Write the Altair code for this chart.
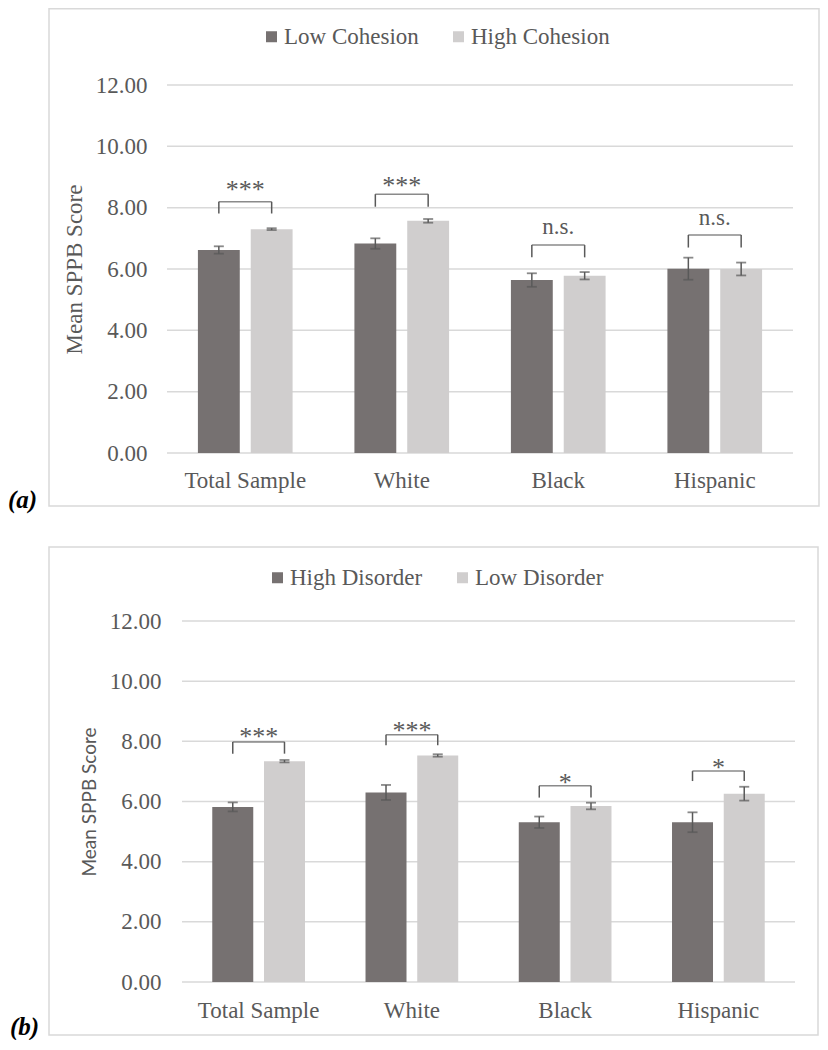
import altair as alt
import pandas as pd

GROUPS = ["Total Sample", "White", "Black", "Hispanic"]
Y_TICKS = [0, 2, 4, 6, 8, 10, 12]
PANEL_LABELS = ["(a)", "(b)"]
Y_TITLE = "Mean SPPB Score"

A_SERIES = ["Low Cohesion", "High Cohesion"]
A_DARK = [6.62, 6.83, 5.64, 6.01]
A_DARK_ERR = [0.12, 0.17, 0.22, 0.36]
A_LIGHT = [7.30, 7.57, 5.78, 6.00]
A_LIGHT_ERR = [0.03, 0.06, 0.12, 0.21]
A_SIG = ["***", "***", "n.s.", "n.s."]
A_BRACKET_TOP = [8.19, 8.44, 6.78, 7.11]
A_BRACKET_LEG = [7.81, 8.03, 6.38, 6.70]
A_SIG_Y = [8.73, 8.86, 7.32, 7.61]

B_SERIES = ["High Disorder", "Low Disorder"]
B_DARK = [5.82, 6.30, 5.31, 5.31]
B_DARK_ERR = [0.15, 0.25, 0.19, 0.33]
B_LIGHT = [7.34, 7.53, 5.85, 6.26]
B_LIGHT_ERR = [0.04, 0.04, 0.11, 0.23]
B_SIG = ["***", "***", "*", "*"]
B_BRACKET_TOP = [7.98, 8.22, 6.52, 7.01]
B_BRACKET_LEG = [7.59, 7.87, 6.13, 6.68]
B_SIG_Y = [8.30, 8.50, 6.79, 7.28]

DARK = "#767171"
LIGHT = "#d0cece"
GRID = "#d9d9d9"
TEXT = "#595959"
SERIF = "Liberation Serif"


def panel(series, dark, dark_err, light, light_err, sig, btop, bleg, sig_y,
          label, width, height, x_range, grid_x0, border, label_pos,
          legend_xy, ytitle_font, ytitle_size, y_offset, y_label_pad,
          y_title_pad, x_label_pad, bracket_len):
    rows = []
    for i, g in enumerate(GROUPS):
        for s, v, e in ((series[0], dark[i], dark_err[i]), (series[1], light[i], light_err[i])):
            rows.append({"group": g, "series": s, "value": v, "lo": v - e, "hi": v + e})
    bars_df = pd.DataFrame(rows)
    caps_df = pd.concat([
        bars_df[["group", "series", "lo"]].rename(columns={"lo": "cap"}),
        bars_df[["group", "series", "hi"]].rename(columns={"hi": "cap"}),
    ])
    br_df = pd.DataFrame({"group": GROUPS, "top": btop, "leg": bleg, "sig": sig, "sig_y": sig_y})
    legs_rows = []
    for i, g in enumerate(GROUPS):
        for s in series:
            legs_rows.append({"group": g, "series": s, "top": btop[i], "leg": bleg[i]})
    legs_df = pd.DataFrame(legs_rows)
    ticks_df = pd.DataFrame({"tick": Y_TICKS})
    one = pd.DataFrame({"panel": [label]})

    if x_range is not None:
        xscale = alt.Scale(domain=GROUPS, paddingInner=0.395, paddingOuter=0.1975, range=x_range)
    else:
        xscale = alt.Scale(domain=GROUPS, paddingInner=0.395, paddingOuter=0.1975)
    X = alt.X("group:N", sort=GROUPS, scale=xscale,
              axis=alt.Axis(title=None, domain=False, ticks=False, labelAngle=0,
                            labelFont=SERIF, labelFontSize=23, labelColor=TEXT,
                            labelPadding=x_label_pad))
    XO = alt.XOffset("series:N", sort=series,
                     scale=alt.Scale(domain=series, paddingInner=0.2075, paddingOuter=0))
    yscale = alt.Scale(domain=[0, 12], nice=False, zero=True)

    border_layer = alt.Chart(one).mark_rect(filled=False, stroke=GRID, strokeWidth=1.5).encode(
        x=alt.value(border[0]), x2=alt.value(border[1]),
        y=alt.value(border[2]), y2=alt.value(border[3]))

    grid = alt.Chart(ticks_df).mark_rule(color=GRID, strokeWidth=1.5).encode(
        y=alt.Y("tick:Q", scale=yscale,
                axis=alt.Axis(values=Y_TICKS, format=".2f", grid=False, domain=False, ticks=False,
                              labelFont=SERIF, labelFontSize=23, labelColor=TEXT,
                              labelPadding=y_label_pad, offset=y_offset,
                              title=Y_TITLE, titleFont=ytitle_font, titleFontSize=ytitle_size,
                              titleFontWeight="normal", titleColor=TEXT,
                              titlePadding=y_title_pad)),
        x=alt.value(grid_x0), x2=alt.value(width))

    bars = alt.Chart(bars_df).mark_bar().encode(
        x=X, xOffset=XO,
        y=alt.Y("value:Q", scale=yscale),
        color=alt.Color("series:N", sort=series,
                        scale=alt.Scale(domain=series, range=[DARK, LIGHT]),
                        legend=alt.Legend(title=None, orient="none", legendX=legend_xy[0],
                                          legendY=legend_xy[1], direction="horizontal",
                                          symbolType="square", symbolSize=121,
                                          symbolStrokeWidth=0, labelFont=SERIF,
                                          labelFontSize=23, labelColor=TEXT,
                                          labelOffset=1, columnPadding=28)))

    err = alt.Chart(bars_df).mark_rule(color=TEXT, strokeWidth=1.5).encode(
        x=X, xOffset=XO, y=alt.Y("lo:Q", scale=yscale), y2="hi:Q")
    caps = alt.Chart(caps_df).mark_tick(color=TEXT, size=10, thickness=1.8).encode(
        x=X, xOffset=XO, y=alt.Y("cap:Q", scale=yscale))

    legs = alt.Chart(legs_df).mark_rule(color=TEXT, strokeWidth=1.5).encode(
        x=X, xOffset=XO, y=alt.Y("leg:Q", scale=yscale), y2="top:Q")
    btop_layer = alt.Chart(br_df).mark_tick(color=TEXT, size=bracket_len, thickness=1.5).encode(
        x=X, y=alt.Y("top:Q", scale=yscale))

    stars = alt.Chart(br_df).transform_filter("indexof(datum.sig, '*') >= 0").mark_text(
        font=SERIF, fontSize=26, color=TEXT, baseline="middle", dy=5).encode(
        x=X, y=alt.Y("sig_y:Q", scale=yscale), text="sig:N")
    ns = alt.Chart(br_df).transform_filter("indexof(datum.sig, '*') < 0").mark_text(
        font=SERIF, fontSize=23, color=TEXT, baseline="middle", dy=-1.5).encode(
        x=X, y=alt.Y("sig_y:Q", scale=yscale), text="sig:N")

    plabel = alt.Chart(one).mark_text(font=SERIF, fontSize=25, fontStyle="italic",
                                      fontWeight="bold", color="black", align="left",
                                      baseline="alphabetic").encode(
        x=alt.value(label_pos[0]), y=alt.value(label_pos[1]), text="panel:N")

    return alt.layer(border_layer, grid, bars, err, caps, legs, btop_layer, stars, ns, plabel).properties(
        width=width, height=height, view=alt.ViewBackground(stroke="transparent", strokeWidth=0))


pa = panel(A_SERIES, A_DARK, A_DARK_ERR, A_LIGHT, A_LIGHT_ERR, A_SIG, A_BRACKET_TOP,
           A_BRACKET_LEG, A_SIG_Y, PANEL_LABELS[0], width=626, height=368, x_range=None,
           grid_x0=0, border=(-118, 652, -76.25, 421), label_pos=(-159, 423),
           legend_xy=(93, -60), ytitle_font=SERIF, ytitle_size=23, y_offset=0,
           y_label_pad=20, y_title_pad=9, x_label_pad=16, bracket_len=53)

pb = panel(B_SERIES, B_DARK, B_DARK_ERR, B_LIGHT, B_LIGHT_ERR, B_SIG, B_BRACKET_TOP,
           B_BRACKET_LEG, B_SIG_Y, PANEL_LABELS[1], width=628, height=361, x_range=[15, 628],
           grid_x0=15, border=(-118, 651, -74, 414), label_pos=(-157, 414),
           legend_xy=(99, -55), ytitle_font="Lato", ytitle_size=19, y_offset=-15,
           y_label_pad=21, y_title_pad=10, x_label_pad=17, bracket_len=52)

chart = alt.vconcat(pa, pb, spacing=168, bounds="flush").resolve_scale(
    color="independent", xOffset="independent", x="independent", y="independent"
).resolve_legend(color="independent").properties(padding=0).configure_view(
    stroke="transparent", strokeWidth=0).configure(background="white")

chart.save("out.html", embed_options={"renderer": "svg", "actions": False})
